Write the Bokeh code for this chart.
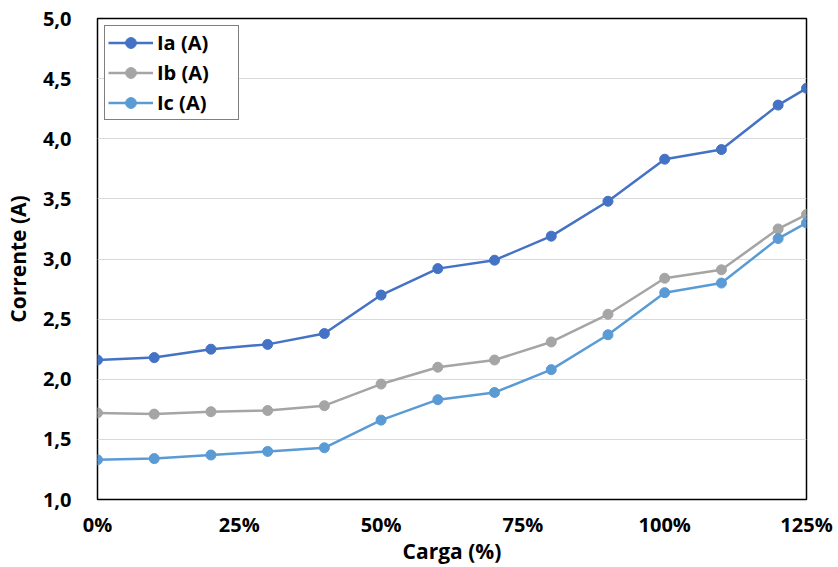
from bokeh.plotting import figure
from bokeh.models import FixedTicker, CustomJSTickFormatter, Range1d, Legend, LegendItem
from bokeh.embed import file_html
from bokeh.resources import INLINE

carga = [0, 10, 20, 30, 40, 50, 60, 70, 80, 90, 100, 110, 120, 125]
ia = [2.16, 2.18, 2.25, 2.29, 2.38, 2.70, 2.92, 2.99, 3.19, 3.48, 3.83, 3.91, 4.28, 4.42]
ib = [1.72, 1.71, 1.73, 1.74, 1.78, 1.96, 2.10, 2.16, 2.31, 2.54, 2.84, 2.91, 3.25, 3.37]
ic = [1.33, 1.34, 1.37, 1.40, 1.43, 1.66, 1.83, 1.89, 2.08, 2.37, 2.72, 2.80, 3.17, 3.30]
x_ticks = [0, 25, 50, 75, 100, 125]
y_ticks = [1.0, 1.5, 2.0, 2.5, 3.0, 3.5, 4.0, 4.5, 5.0]

series = [("Ia (A)", ia, "#4472C4"), ("Ib (A)", ib, "#A5A5A5"), ("Ic (A)", ic, "#5B9BD5")]

FONT = "Open Sans"

p = figure(width=838, height=567, output_backend="svg", toolbar_location=None,
           x_range=Range1d(0, 125), y_range=Range1d(1.0, 5.0))
p.min_border_left = 97
p.min_border_right = 32
p.min_border_top = 18
p.min_border_bottom = 68
p.background_fill_color = "white"
p.border_fill_color = "white"
p.outline_line_color = "black"
p.outline_line_width = 1.5

items = []
for name, vals, col in series:
    r1 = p.line(carga, vals, line_color=col, line_width=2.5)
    r2 = p.scatter(carga, vals, size=10, fill_color=col, line_color=col)
    items.append(LegendItem(label=name, renderers=[r1, r2]))

p.xaxis.ticker = FixedTicker(ticks=x_ticks)
p.yaxis.ticker = FixedTicker(ticks=y_ticks)
p.xaxis.formatter = CustomJSTickFormatter(code="return tick.toFixed(0) + '%';")
p.yaxis.formatter = CustomJSTickFormatter(code="return tick.toFixed(1).replace('.', ',');")

for ax in (p.xaxis[0], p.yaxis[0]):
    ax.axis_line_color = None
    ax.major_tick_line_color = None
    ax.minor_tick_line_color = None
    ax.major_label_text_font = FONT
    ax.major_label_text_font_style = "bold"
    ax.major_label_text_font_size = "20px"
    ax.major_label_text_color = "black"
    ax.axis_label_text_font = FONT
    ax.axis_label_text_font_style = "bold"
    ax.axis_label_text_font_size = "21px"
    ax.axis_label_text_color = "black"

p.xaxis.axis_label = "Carga (%)"
p.yaxis.axis_label = "Corrente (A)"
p.xaxis.major_label_standoff = 5
p.yaxis.major_label_standoff = 20
p.xaxis.axis_label_standoff = -4
p.yaxis.axis_label_standoff = 8

p.xgrid.grid_line_color = None
p.ygrid.grid_line_color = "#D9D9D9"
p.ygrid.grid_line_width = 1.2

legend = Legend(items=items, location="top_left")
legend.margin = 7
legend.padding = 3
legend.spacing = 3
legend.glyph_width = 45
legend.glyph_height = 27
legend.label_height = 27
legend.label_width = 78
legend.label_standoff = 4
legend.label_text_font = FONT
legend.label_text_font_style = "bold"
legend.label_text_font_size = "20px"
legend.label_text_color = "black"
legend.border_line_color = "black"
legend.border_line_width = 1.2
legend.background_fill_color = "white"
legend.background_fill_alpha = 1.0
p.add_layout(legend)

open("out.html", "w").write(file_html(p, INLINE))
